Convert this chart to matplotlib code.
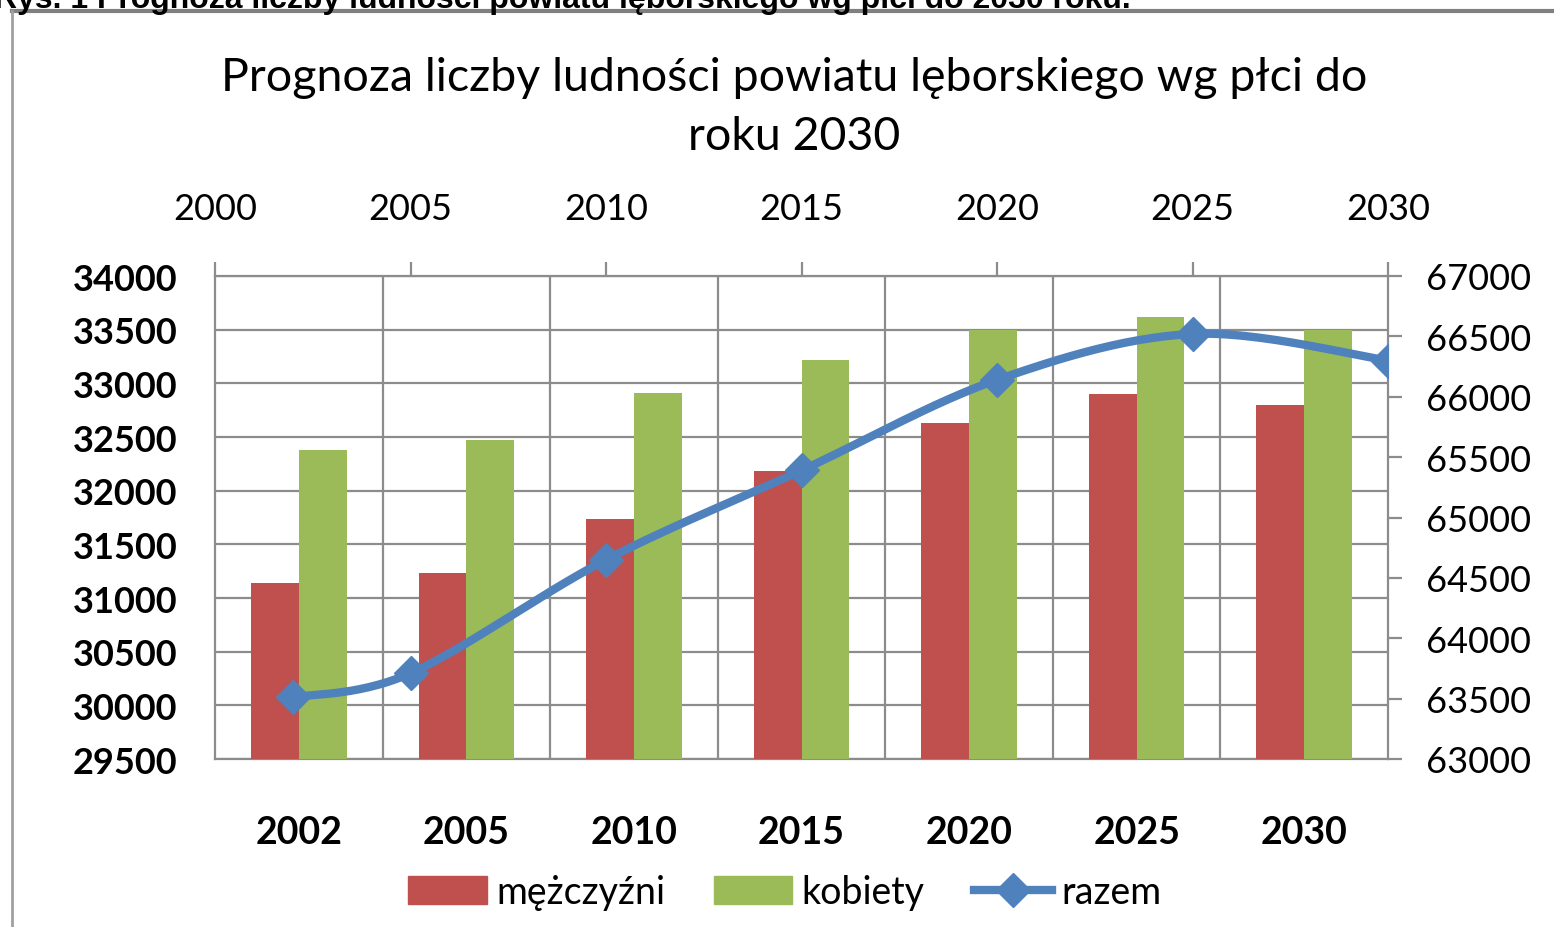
import numpy as np
import matplotlib
matplotlib.use("Agg")
import matplotlib.pyplot as plt
from matplotlib.lines import Line2D
from matplotlib.patches import Patch

# --- dane ---
lata = ["2002", "2005", "2010", "2015", "2020", "2025", "2030"]
lata_num = [2002, 2005, 2010, 2015, 2020, 2025, 2030]
mezczyzni = [31140, 31230, 31740, 32180, 32630, 32900, 32800]
kobiety = [32380, 32470, 32910, 33220, 33500, 33620, 33500]
razem = [63510, 63710, 64650, 65390, 66140, 66520, 66300]

C_RED = "#C0504D"
C_GREEN = "#9BBB59"
C_BLUE = "#4F81BD"
C_GRID = "#8c8c8c"

plt.rcParams["font.family"] = ["Lato", "DejaVu Sans"]


def catmull_rom(xs, ys, n=30):
    """Wygładzona linia jak w Excelu (Catmull-Rom)"""
    p = np.column_stack([xs, ys]).astype(float)
    p = np.vstack([p[0], p, p[-1]])
    out = []
    for i in range(1, len(p) - 2):
        p0, p1, p2, p3 = p[i - 1], p[i], p[i + 1], p[i + 2]
        t = np.linspace(0, 1, n)[:, None]
        seg = 0.5 * ((2 * p1) + (-p0 + p2) * t
                     + (2 * p0 - 5 * p1 + 4 * p2 - p3) * t ** 2
                     + (-p0 + 3 * p1 - 3 * p2 + p3) * t ** 3)
        out.append(seg)
    out = np.vstack(out)
    return out[:, 0], out[:, 1]


fig = plt.figure(figsize=(15.54, 9.28), dpi=100)
pos = [215 / 1554, 1 - 760 / 928, (1388 - 215) / 1554, (760 - 277) / 928]

# --- słupki (oś główna) ---
ax = fig.add_axes(pos)
x = np.arange(len(lata))
w = 0.285
ax.bar(x - w / 2, mezczyzni, w, color=C_RED, zorder=3, label="mężczyźni")
ax.bar(x + w / 2, kobiety, w, color=C_GREEN, zorder=3, label="kobiety")
ax.set_xlim(-0.5, len(lata) - 0.5)
ax.set_ylim(29500, 34000)
ax.set_yticks(np.arange(29500, 34001, 500))
ax.set_xticks(x)
ax.set_xticklabels(lata, fontsize=27, fontweight="bold")
ax.set_xticks(np.arange(0.5, len(lata) - 0.5), minor=True)
ax.tick_params(axis="x", which="both", length=0, pad=40)
ax.tick_params(axis="y", length=0, pad=27, labelsize=26)
for lab in ax.get_yticklabels():
    lab.set_fontweight("bold")
ax.grid(axis="y", which="major", color=C_GRID, linewidth=1.6, zorder=0)
ax.grid(axis="x", which="minor", color=C_GRID, linewidth=1.6, zorder=0)
for s in ax.spines.values():
    s.set_color(C_GRID)
    s.set_linewidth(1.6)

# --- linia "razem" (oś pomocnicza) ---
ax2 = fig.add_axes(pos, frameon=False)
ax2.patch.set_visible(False)
ax2.set_xlim(2000, 2030)
ax2.set_ylim(63000, 67000)
# wygładzanie w znormalizowanych współrzędnych
nx = (np.array(lata_num) - 2000) / 30 * (1388 - 215)
ny = (np.array(razem) - 63000) / 4000 * (760 - 277)
sx, sy = catmull_rom(nx, ny)
ax2.plot(sx / (1388 - 215) * 30 + 2000, sy / (760 - 277) * 4000 + 63000,
         color=C_BLUE, linewidth=6, solid_capstyle="round", zorder=4)
ax2.plot(lata_num, razem, linestyle="none", marker="D", markersize=17,
         color=C_BLUE, zorder=5)
ax2.xaxis.tick_top()
ax2.yaxis.tick_right()
ax2.set_xticks(np.arange(2000, 2031, 5))
ax2.set_yticks(np.arange(63000, 67001, 500))
ax2.tick_params(axis="x", direction="out", length=10, width=1.6, color=C_GRID,
                labelsize=26, pad=27)
ax2.tick_params(axis="y", direction="out", length=10, width=1.6, color=C_GRID,
                labelsize=26, pad=17)

# --- tytuł ---
fig.text(0.511, 1 - 78 / 928, "Prognoza liczby ludności powiatu lęborskiego wg płci do",
         ha="center", va="center", fontsize=33.5)
fig.text(0.511, 1 - 137 / 928, "roku 2030", ha="center", va="center", fontsize=33.5)

# podpis rysunku (ucięty u góry)
fig.text(-0.004, 1.0, "Rys. 1 Prognoza liczby ludności powiatu lęborskiego wg płci do 2030 roku.",
         ha="left", va="center", fontsize=23, fontweight="bold",
         family=["Liberation Sans", "DejaVu Sans"])

# ramka wykresu
fig.add_artist(Line2D([12 / 1554, 1.0], [1 - 12 / 928, 1 - 12 / 928],
                      color="#808080", linewidth=3, transform=fig.transFigure))
fig.add_artist(Line2D([12 / 1554, 12 / 1554], [0, 1 - 12 / 928],
                      color="#a0a0a0", linewidth=2, transform=fig.transFigure))

# --- legenda ---
handles = [Patch(color=C_RED), Patch(color=C_GREEN),
           Line2D([], [], color=C_BLUE, linewidth=6, marker="D", markersize=17)]
fig.legend(handles, ["mężczyźni", "kobiety", "razem"], loc="center",
           bbox_to_anchor=(0.505, 1 - 893 / 928), ncol=3, frameon=False,
           fontsize=27, handlelength=2.1, handleheight=0.75, columnspacing=1.3,
           handletextpad=0.25)

fig.savefig("out.png", dpi=100)
